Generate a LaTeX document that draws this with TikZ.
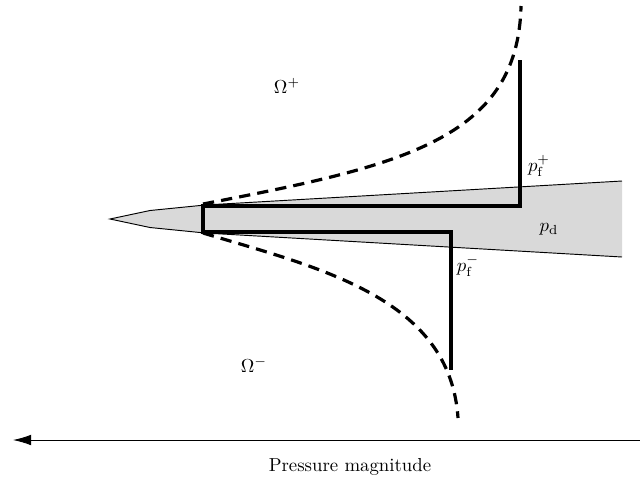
\documentclass[tikz,border=0pt]{standalone}
\usepackage{amsmath,amssymb}
\usepackage{xcolor}
\usepackage{tikz}
\usetikzlibrary{arrows.meta}

\begin{document}
\begin{tikzpicture}[
  x=0.0187cm, y=-0.0187cm,
  wall/.style={line width=1.9pt, line join=miter},
  level/.style={line width=1.7pt, dash pattern=on 6pt off 3.8pt},
  arrow/.style={-{Latex[length=3.4mm, width=2mm]}, line width=0.5pt}
]
\useasboundingbox (0,0) rectangle (640,481);
% solid wedge
\fill[gray!30] (110,219) -- (150,210.5) -- (205,205) -- (622,181) -- (622,257) -- (205,233) -- (150,227.5) -- cycle;
\draw[line width=0.5pt] (622,181) -- (205,205) -- (150,210.5) -- (110,219) -- (150,227.5) -- (205,233) -- (622,257);
% pressure profiles
\draw[wall] (520,60) -- (520,206) -- (203,206) -- (203,232) -- (451,232) -- (451,370);
\draw[level] (203,204) .. controls (400,166) and (518,140) .. (521,6);
\draw[level] (203,233) .. controls (320,268) and (450,298) .. (458,418);
\node (omegap) at (287,86) {$\Omega^{+}$};
\node (omegam) at (254,365) {$\Omega^{-}$};
\node (pfp) at (539,166) {$p_{\mathrm{f}}^{+}$};
\node (pfm) at (468,266) {$p_{\mathrm{f}}^{-}$};
\node (pd) at (549,229) {$p_{\mathrm{d}}$};
% pressure axis
\coordinate (high) at (640,440);
\coordinate (low) at (13,440);
\draw[arrow] (high) -- (low);
\node (axis) at (350,467) {Pressure magnitude};
\end{tikzpicture}
\end{document}
